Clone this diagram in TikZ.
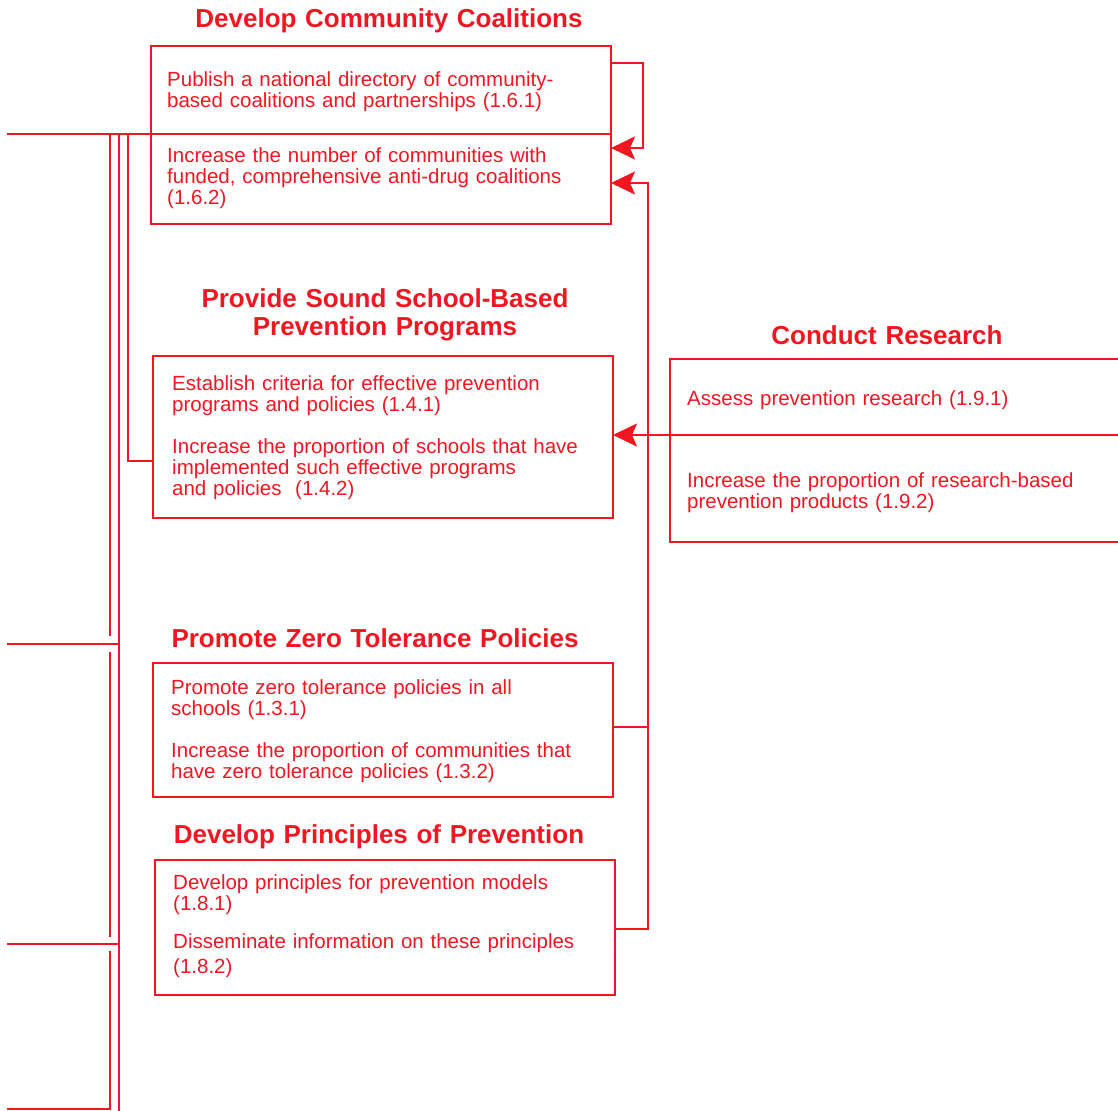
\documentclass[tikz,border=0pt]{standalone}
\usepackage{fontspec}
\setmainfont{Liberation Sans}
\usetikzlibrary{arrows.meta}
\definecolor{ink}{RGB}{242,22,32}
\begin{document}
\begin{tikzpicture}[x=1pt,y=-1pt,
  box/.style={draw=ink, line width=2.3pt, rectangle, inner sep=0pt, outer sep=0pt,
    minimum width=460pt},
  heading/.style={font=\fontsize{26}{28}\selectfont\bfseries, text=ink,
    text width=540pt, align=center, anchor=base, inner sep=0pt},
  item/.style={font=\fontsize{20.5}{21}\selectfont, text=ink, text width=440pt,
    align=left, anchor=base west, inner sep=0pt},
  link/.style={draw=ink, line width=2.3pt},
  tip/.style={-{Stealth[length=24pt,width=23pt,inset=5pt]}}
]
\useasboundingbox (0,0) rectangle (1118,1110);

% ---- boxes ----
\node[box, minimum height=178pt] (b1) at (381,135) {};
\node[box, minimum height=162pt] (b2) at (383,437) {};
\node[box, minimum height=183pt] (b3) at (900,450.5) {};
\node[box, minimum height=134pt] (b4) at (383,730) {};
\node[box, minimum height=135pt] (b5) at (385,927.5) {};

% ---- headings ----
\node[heading] (t1) at (389,28) {Develop Community Coalitions};
\node[heading] (t2) at (385,307) {Provide Sound School-Based\\Prevention Programs};
\node[heading] (t3) at (887,344) {Conduct Research};
\node[heading] (t4) at (375,647) {Promote Zero Tolerance Policies};
\node[heading] (t5) at (379,843) {Develop Principles of Prevention};

% ---- objectives ----
\node[item] (i161) at (167,87) {Publish a national directory of community-\\based coalitions and partnerships (1.6.1)};
\node[item] (i162) at (167,163) {Increase the number of communities with\\funded, comprehensive anti-drug coalitions\\(1.6.2)};
\node[item] (i141) at (172,390) {Establish criteria for effective prevention\\programs and policies (1.4.1)};
\node[item] (i142) at (172,453) {Increase the proportion of schools that have\\implemented such effective programs\\and policies\ \ (1.4.2)};
\node[item] (i191) at (687,405) {Assess prevention research (1.9.1)};
\node[item] (i192) at (687,487) {Increase the proportion of research-based\\prevention products (1.9.2)};
\node[item] (i131) at (171,694) {Promote zero tolerance policies in all\\schools (1.3.1)};
\node[item] (i132) at (171,757) {Increase the proportion of communities that\\have zero tolerance policies (1.3.2)};
\node[item] (i181) at (173,889) {Develop principles for prevention models\\(1.8.1)};
\node[item] (i182) at (173,948) {Disseminate information on these principles\\[4pt](1.8.2)};

% ---- junction points ----
\coordinate (L1) at (7,134);
\coordinate (L2) at (7,644);
\coordinate (L3) at (7,944);
\coordinate (L4) at (7,1109);
\coordinate (va) at (110,134);
\coordinate (vb) at (119,134);
\coordinate (vc) at (128,134);
\coordinate (R) at (1125,435);

% ---- divider of the coalitions box and the bus leaving it ----
\draw[link] (L1) -- (b1.west |- L1) -- (b1.east |- L1);
\draw[link] (vc) -- (128,461) -- (b2.west |- 0,461);
\draw[link] (vb) -- (119,1112);
\draw[link] (L2) -- (119,644);
\draw[link] (L3) -- (119,944);
\draw[link] (va) -- (110,636);
\draw[link] (110,652) -- (110,937);
\draw[link] (110,951) -- (110,1109) -- (L4);

% ---- feedback arrows on the right ----
\draw[link,tip] (b1.east |- 0,63) -- (643,63) -- (643,148) -- (b1.east |- 0,148);
\draw[link,tip] (b5.east |- 0,929) -- (648,929) -- (648,183) -- (b1.east |- 0,183);
\draw[link] (b4.east |- 0,727) -- (648,727);
\draw[link,tip] (R) -- (b2.east |- R);
\end{tikzpicture}
\end{document}
